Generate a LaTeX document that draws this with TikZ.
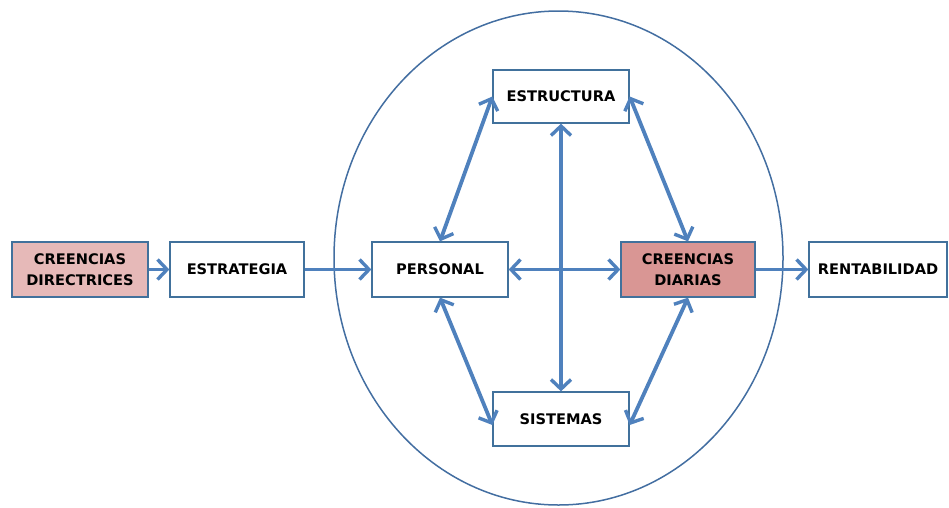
\documentclass[tikz,border=0pt]{standalone}
\usepackage{fontspec}
\setmainfont{DejaVu Sans}
\usetikzlibrary{arrows.meta,shapes.geometric}
\definecolor{boxline}{HTML}{41719C}
\definecolor{flow}{HTML}{4F81BD}
\definecolor{pinklight}{HTML}{E6B9B8}
\definecolor{pinkdark}{HTML}{D99694}
\tikzset{
  barb/.tip={Straight Barb[length=9.5pt,width=20pt,line width=3.4pt]}
}
\begin{document}
\begin{tikzpicture}[x=1pt,y=-1pt,
  box/.style={draw=boxline, line width=1.3pt, fill=white, minimum height=55pt,
    inner sep=0pt, align=center, font=\bfseries\fontsize{14.6}{21}\selectfont},
  flowline/.style={draw=flow, line width=3.8pt, -barb},
  twoway/.style={draw=flow, line width=3.8pt, barb-barb}]
  \useasboundingbox (0,0) rectangle (949,507);
  % surrounding organisation ellipse
  \draw[flow!85!black, line width=1.5pt] (558.5,258) ellipse [x radius=224.5, y radius=247];
  % boxes
  \node[box, fill=pinklight, minimum width=136pt] (dir) at (80,269.5) {CREENCIAS\\DIRECTRICES};
  \node[box, minimum width=134pt] (estra) at (237,269.5) {ESTRATEGIA};
  \node[box, minimum width=136pt] (pers) at (440,269.5) {PERSONAL};
  \node[box, fill=pinkdark, minimum width=134pt] (diar) at (688,269.5) {CREENCIAS\\DIARIAS};
  \node[box, minimum width=138pt] (rent) at (878,269.5) {RENTABILIDAD};
  \node[box, minimum width=136pt, minimum height=53pt] (estru) at (561,96.5) {ESTRUCTURA};
  \node[box, minimum width=136pt, minimum height=54pt] (sist) at (561,419) {SISTEMAS};
  % connectors
  \draw[flowline] (dir) -- (estra);
  \draw[flowline] (estra) -- (pers);
  \draw[flowline] (diar) -- (rent);
  \draw[twoway] (pers) -- (diar);
  \draw[twoway] (estru) -- (sist);
  \draw[twoway] (estru.west) -- (pers.north);
  \draw[twoway] (estru.east) -- (diar.north);
  \draw[twoway] (pers.south) -- ([yshift=-6pt]sist.west);
  \draw[twoway] (diar.south) -- ([yshift=-6pt]sist.east);
\end{tikzpicture}
\end{document}
